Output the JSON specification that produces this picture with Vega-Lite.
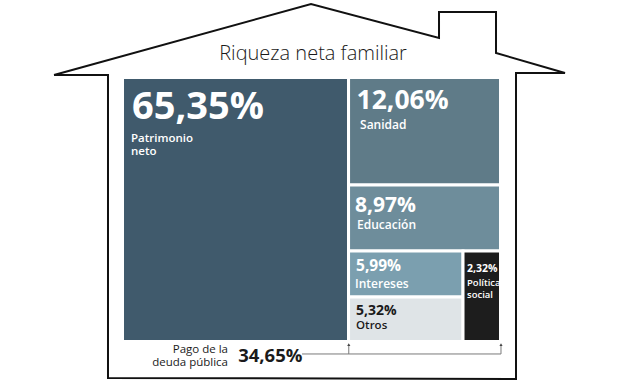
{
  "$schema": "https://vega.github.io/schema/vega-lite/v6.json",
  "width": 624,
  "height": 385,
  "autosize": {"type": "fit", "contains": "padding"},
  "padding": 0,
  "background": "white",
  "config": {
    "view": {"stroke": null},
    "text": {"font": "Open Sans", "align": "left", "baseline": "alphabetic"},
    "locale": {"number": {"decimal": ",", "thousands": ".", "grouping": [3], "currency": ["", " €"]}}
  },
  "datasets": {
    "cells": [
      {"category": "Patrimonio neto", "name": "Patrimonio\nneto", "share": 0.6535, "x0": 0, "x1": 59.8, "y0": 0, "y1": 100},
      {"category": "Sanidad", "name": "Sanidad", "share": 0.1206, "x0": 59.8, "x1": 100, "y0": 59.28, "y1": 100},
      {"category": "Educación", "name": "Educación", "share": 0.0897, "x0": 59.8, "x1": 100, "y0": 34.28, "y1": 59.28},
      {"category": "Intereses", "name": "Intereses", "share": 0.0599, "x0": 59.8, "x1": 90.08, "y0": 16.86, "y1": 34.28},
      {"category": "Otros", "name": "Otros", "share": 0.0532, "x0": 59.8, "x1": 90.08, "y0": 0, "y1": 16.86},
      {"category": "Política social", "name": "Política\nsocial", "share": 0.0232, "x0": 90.08, "x1": 100, "y0": 0, "y1": 34.28}
    ],
    "house": [
      {"i": 0, "hx": -18.12, "hy": 100.95},
      {"i": 1, "hx": 49.87, "hy": 127.84},
      {"i": 2, "hx": 83.73, "hy": 114.96},
      {"i": 3, "hx": 83.73, "hy": 124.81},
      {"i": 4, "hx": 98.81, "hy": 124.81},
      {"i": 5, "hx": 98.81, "hy": 109.28},
      {"i": 6, "hx": 117.06, "hy": 101.7},
      {"i": 7, "hx": 104.1, "hy": 101.7},
      {"i": 8, "hx": 104.1, "hy": -14.2},
      {"i": 9, "hx": -3.84, "hy": -13.83},
      {"i": 10, "hx": -3.84, "hy": 100.95},
      {"i": 11, "hx": -18.12, "hy": 100.95}
    ],
    "notes": [
      {"title": "Riqueza neta familiar", "debt_label": "Pago de la\ndeuda pública", "debt_share": 0.3465}
    ]
  },
  "layer": [
    {
      "data": {"name": "house"},
      "mark": {"type": "line", "stroke": "#111111", "strokeWidth": 2, "strokeJoin": "miter"},
      "encoding": {
        "x": {"field": "hx", "type": "quantitative", "scale": {"domain": [-32.41, 132.67], "nice": false, "zero": false}, "axis": null},
        "y": {"field": "hy", "type": "quantitative", "scale": {"domain": [-16.48, 129.36], "nice": false, "zero": false}, "axis": null},
        "order": {"field": "i", "type": "quantitative"}
      }
    },
    {
      "data": {"name": "cells"},
      "mark": {"type": "rect", "stroke": "white", "strokeWidth": 3},
      "encoding": {
        "x": {"field": "x0", "type": "quantitative", "scale": {"domain": [-32.41, 132.67], "nice": false, "zero": false}, "axis": null},
        "x2": {"field": "x1"},
        "y": {"field": "y0", "type": "quantitative", "scale": {"domain": [-16.48, 129.36], "nice": false, "zero": false}, "axis": null},
        "y2": {"field": "y1"},
        "fill": {
          "field": "category", "type": "nominal", "legend": null,
          "scale": {
            "domain": ["Patrimonio neto", "Sanidad", "Educación", "Intereses", "Otros", "Política social"],
            "range": ["#405a6c", "#5f7b88", "#6e8d9b", "#7b9faf", "#dfe4e7", "#1d1d1d"]
          }
        }
      }
    },
    {
      "data": {"name": "cells"},
      "transform": [{"filter": "datum.category === 'Patrimonio neto'"}],
      "encoding": {
        "x": {"field": "x0", "type": "quantitative", "scale": {"domain": [-32.41, 132.67], "nice": false, "zero": false}, "axis": null},
        "y": {"field": "y1", "type": "quantitative", "scale": {"domain": [-16.48, 129.36], "nice": false, "zero": false}, "axis": null}
      },
      "layer": [
        {"mark": {"type": "text", "fontWeight": "bold", "fontSize": 38, "dx": 9.5, "dy": 41.5, "color": "white"},
         "encoding": {"text": {"field": "share", "type": "quantitative", "format": ".2%"}}},
        {"mark": {"type": "text", "fontWeight": 600, "fontSize": 11.5, "dx": 8.5, "dy": 64, "lineBreak": "\n", "lineHeight": 13.5, "color": "white"},
         "encoding": {"text": {"field": "name", "type": "nominal"}}}
      ]
    },
    {
      "data": {"name": "cells"},
      "transform": [{"filter": "datum.category === 'Sanidad'"}],
      "encoding": {
        "x": {"field": "x0", "type": "quantitative", "scale": {"domain": [-32.41, 132.67], "nice": false, "zero": false}, "axis": null},
        "y": {"field": "y1", "type": "quantitative", "scale": {"domain": [-16.48, 129.36], "nice": false, "zero": false}, "axis": null}
      },
      "layer": [
        {"mark": {"type": "text", "fontWeight": "bold", "fontSize": 26.5, "dx": 8, "dy": 31, "color": "white"},
         "encoding": {"text": {"field": "share", "type": "quantitative", "format": ".2%"}}},
        {"mark": {"type": "text", "fontWeight": 600, "fontSize": 12, "dx": 11.5, "dy": 51, "color": "white"},
         "encoding": {"text": {"field": "name", "type": "nominal"}}}
      ]
    },
    {
      "data": {"name": "cells"},
      "transform": [{"filter": "datum.category === 'Educación'"}],
      "encoding": {
        "x": {"field": "x0", "type": "quantitative", "scale": {"domain": [-32.41, 132.67], "nice": false, "zero": false}, "axis": null},
        "y": {"field": "y1", "type": "quantitative", "scale": {"domain": [-16.48, 129.36], "nice": false, "zero": false}, "axis": null}
      },
      "layer": [
        {"mark": {"type": "text", "fontWeight": "bold", "fontSize": 21, "dx": 6.5, "dy": 26.5, "color": "white"},
         "encoding": {"text": {"field": "share", "type": "quantitative", "format": ".2%"}}},
        {"mark": {"type": "text", "fontWeight": 600, "fontSize": 12, "dx": 8.5, "dy": 44, "color": "white"},
         "encoding": {"text": {"field": "name", "type": "nominal"}}}
      ]
    },
    {
      "data": {"name": "cells"},
      "transform": [{"filter": "datum.category === 'Intereses'"}],
      "encoding": {
        "x": {"field": "x0", "type": "quantitative", "scale": {"domain": [-32.41, 132.67], "nice": false, "zero": false}, "axis": null},
        "y": {"field": "y1", "type": "quantitative", "scale": {"domain": [-16.48, 129.36], "nice": false, "zero": false}, "axis": null}
      },
      "layer": [
        {"mark": {"type": "text", "fontWeight": "bold", "fontSize": 15.5, "dx": 7.5, "dy": 20.5, "color": "white"},
         "encoding": {"text": {"field": "share", "type": "quantitative", "format": ".2%"}}},
        {"mark": {"type": "text", "fontWeight": 600, "fontSize": 12, "dx": 6.5, "dy": 37, "color": "white"},
         "encoding": {"text": {"field": "name", "type": "nominal"}}}
      ]
    },
    {
      "data": {"name": "cells"},
      "transform": [{"filter": "datum.category === 'Otros'"}],
      "encoding": {
        "x": {"field": "x0", "type": "quantitative", "scale": {"domain": [-32.41, 132.67], "nice": false, "zero": false}, "axis": null},
        "y": {"field": "y1", "type": "quantitative", "scale": {"domain": [-16.48, 129.36], "nice": false, "zero": false}, "axis": null}
      },
      "layer": [
        {"mark": {"type": "text", "fontWeight": "bold", "fontSize": 14, "dx": 7.5, "dy": 18, "color": "#1a1a1a"},
         "encoding": {"text": {"field": "share", "type": "quantitative", "format": ".2%"}}},
        {"mark": {"type": "text", "fontWeight": 600, "fontSize": 11.5, "dx": 7.5, "dy": 32.5, "color": "#1a1a1a"},
         "encoding": {"text": {"field": "name", "type": "nominal"}}}
      ]
    },
    {
      "data": {"name": "cells"},
      "transform": [{"filter": "datum.category === 'Política social'"}],
      "encoding": {
        "x": {"field": "x0", "type": "quantitative", "scale": {"domain": [-32.41, 132.67], "nice": false, "zero": false}, "axis": null},
        "y": {"field": "y1", "type": "quantitative", "scale": {"domain": [-16.48, 129.36], "nice": false, "zero": false}, "axis": null}
      },
      "layer": [
        {"mark": {"type": "text", "fontWeight": "bold", "fontSize": 10.5, "dx": 4, "dy": 21.5, "color": "white"},
         "encoding": {"text": {"field": "share", "type": "quantitative", "format": ".2%"}}},
        {"mark": {"type": "text", "fontWeight": 600, "fontSize": 9.5, "dx": 4, "dy": 35.5, "lineBreak": "\n", "lineHeight": 11.5, "color": "white"},
         "encoding": {"text": {"field": "name", "type": "nominal"}}}
      ]
    },
    {
      "data": {"name": "notes"},
      "mark": {"type": "text", "align": "center", "fontWeight": 300, "fontSize": 20, "color": "#1a1a1a"},
      "encoding": {
        "x": {"datum": 50.4, "type": "quantitative", "scale": {"domain": [-32.41, 132.67], "nice": false, "zero": false}, "axis": null},
        "y": {"datum": 106.6, "type": "quantitative", "scale": {"domain": [-16.48, 129.36], "nice": false, "zero": false}, "axis": null},
        "text": {"field": "title", "type": "nominal"}
      }
    },
    {
      "data": {"name": "notes"},
      "mark": {"type": "text", "align": "right", "fontSize": 11.5, "lineBreak": "\n", "lineHeight": 13.5, "color": "#1a1a1a"},
      "encoding": {
        "x": {"datum": 27.9, "type": "quantitative", "scale": {"domain": [-32.41, 132.67], "nice": false, "zero": false}, "axis": null},
        "y": {"datum": -4.2, "type": "quantitative", "scale": {"domain": [-16.48, 129.36], "nice": false, "zero": false}, "axis": null},
        "text": {"field": "debt_label", "type": "nominal"}
      }
    },
    {
      "data": {"name": "notes"},
      "mark": {"type": "text", "fontWeight": "bold", "fontSize": 18.5, "color": "#1a1a1a"},
      "encoding": {
        "x": {"datum": 30.6, "type": "quantitative", "scale": {"domain": [-32.41, 132.67], "nice": false, "zero": false}, "axis": null},
        "y": {"datum": -7.77, "type": "quantitative", "scale": {"domain": [-16.48, 129.36], "nice": false, "zero": false}, "axis": null},
        "text": {"field": "debt_share", "type": "quantitative", "format": ".2%"}
      }
    },
    {
      "data": {"name": "notes"},
      "mark": {"type": "rule", "color": "#7a7a7a", "strokeWidth": 1},
      "encoding": {
        "x": {"datum": 47.5, "type": "quantitative", "scale": {"domain": [-32.41, 132.67], "nice": false, "zero": false}, "axis": null},
        "x2": {"datum": 100.13},
        "y": {"datum": -4.73, "type": "quantitative", "scale": {"domain": [-16.48, 129.36], "nice": false, "zero": false}, "axis": null}
      }
    },
    {
      "data": {"name": "notes"},
      "mark": {"type": "rule", "color": "#7a7a7a", "strokeWidth": 1},
      "encoding": {
        "x": {"datum": 59.86, "type": "quantitative", "scale": {"domain": [-32.41, 132.67], "nice": false, "zero": false}, "axis": null},
        "y": {"datum": -1.33, "type": "quantitative", "scale": {"domain": [-16.48, 129.36], "nice": false, "zero": false}, "axis": null},
        "y2": {"datum": -4.73}
      }
    },
    {
      "data": {"name": "notes"},
      "mark": {"type": "rule", "color": "#7a7a7a", "strokeWidth": 1},
      "encoding": {
        "x": {"datum": 100.13, "type": "quantitative", "scale": {"domain": [-32.41, 132.67], "nice": false, "zero": false}, "axis": null},
        "y": {"datum": -1.33, "type": "quantitative", "scale": {"domain": [-16.48, 129.36], "nice": false, "zero": false}, "axis": null},
        "y2": {"datum": -4.73}
      }
    },
    {
      "data": {"name": "notes"},
      "mark": {"type": "point", "shape": "triangle-up", "filled": true, "size": 10, "color": "#444444", "opacity": 1},
      "encoding": {
        "x": {"datum": 59.86, "type": "quantitative", "scale": {"domain": [-32.41, 132.67], "nice": false, "zero": false}, "axis": null},
        "y": {"datum": -1.2, "type": "quantitative", "scale": {"domain": [-16.48, 129.36], "nice": false, "zero": false}, "axis": null}
      }
    },
    {
      "data": {"name": "notes"},
      "mark": {"type": "point", "shape": "triangle-up", "filled": true, "size": 10, "color": "#444444", "opacity": 1},
      "encoding": {
        "x": {"datum": 100.13, "type": "quantitative", "scale": {"domain": [-32.41, 132.67], "nice": false, "zero": false}, "axis": null},
        "y": {"datum": -1.2, "type": "quantitative", "scale": {"domain": [-16.48, 129.36], "nice": false, "zero": false}, "axis": null}
      }
    }
  ]
}
